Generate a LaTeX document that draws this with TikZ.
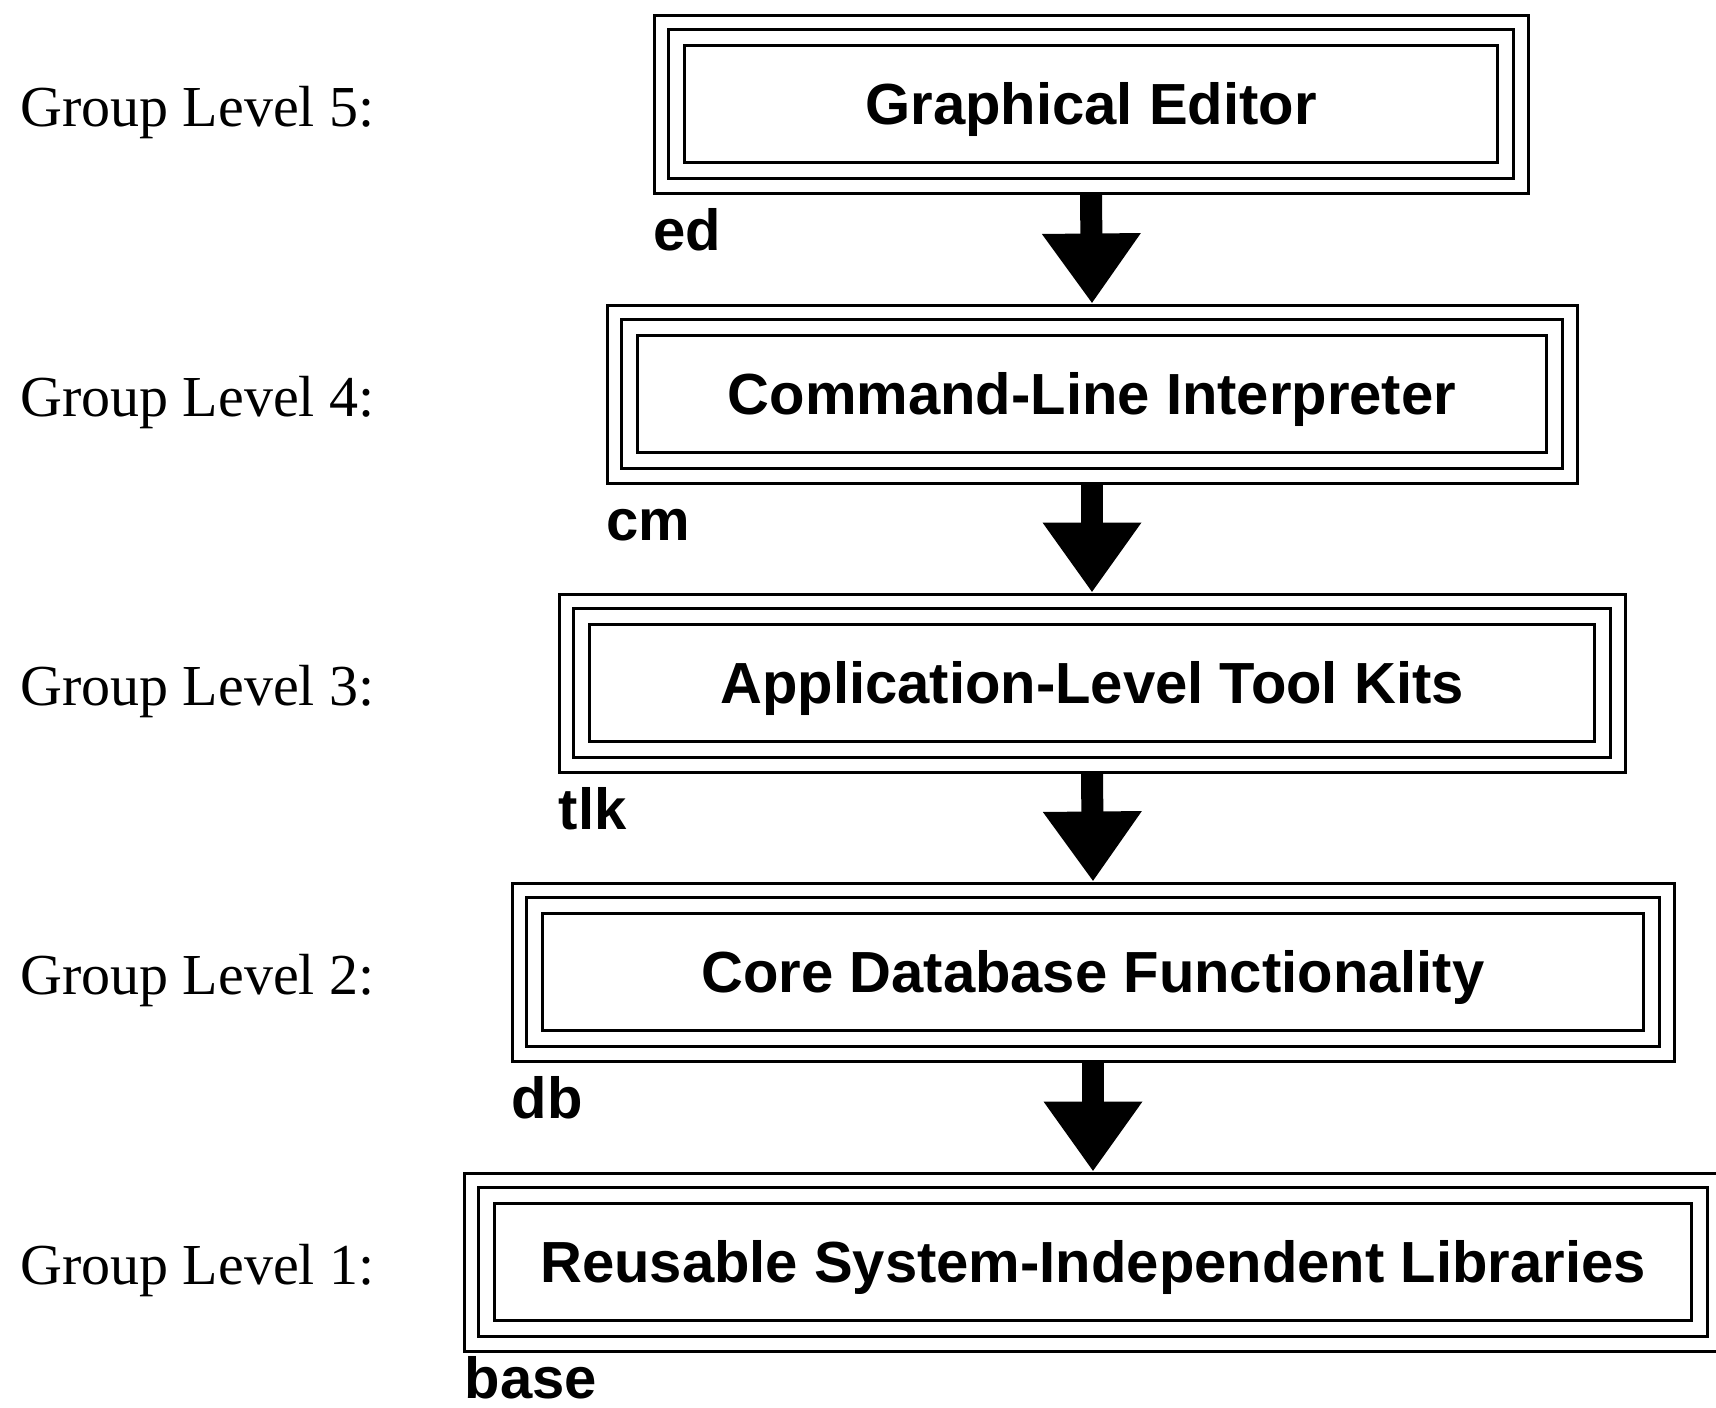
\documentclass[tikz,border=0pt]{standalone}
\usepackage{fontspec}
\setmainfont{Liberation Serif}
\newfontfamily\boxfont{Liberation Sans}
\usetikzlibrary{arrows.meta}
\begin{document}
\begin{tikzpicture}[x=1pt,y=-1pt,
  layerbox/.style={draw, line width=3pt, inner sep=0pt, minimum height=178pt,
    text height=41pt, text depth=0pt, font=\boxfont\bfseries\fontsize{58}{60}\selectfont},
  grouplabel/.style={anchor=base west, inner sep=0pt, font=\fontsize{58}{60}\selectfont},
  tag/.style={anchor=base west, inner sep=0pt, font=\boxfont\bfseries\fontsize{58}{60}\selectfont},
  frame/.style={line width=3pt},
  dep/.style={line width=22pt, -{Triangle[length=70pt,width=94pt]}}]
\useasboundingbox (0,0) rectangle (1716,1408);

\node[layerbox, minimum width=874pt]  (b5) at (1091,104)  {Graphical Editor};
\node[layerbox, minimum width=970pt]  (b4) at (1092,394)  {Command-Line Interpreter};
\node[layerbox, minimum width=1066pt] (b3) at (1092,683)  {Application-Level Tool Kits};
\node[layerbox, minimum width=1162pt] (b2) at (1093,972)  {Core Database Functionality};
\node[layerbox, minimum width=1258pt] (b1) at (1093,1262) {Reusable System-Independent Libraries};

\foreach \b in {b1,b2,b3,b4,b5}{
  \draw[frame] ([shift={(16,16)}]\b.north west) rectangle ([shift={(-16,-16)}]\b.south east);
  \draw[frame] ([shift={(32,32)}]\b.north west) rectangle ([shift={(-32,-32)}]\b.south east);
}

\node[grouplabel] (g5) at (20,126)  {Group Level 5:};
\node[grouplabel] (g4) at (20,416)  {Group Level 4:};
\node[grouplabel] (g3) at (20,705)  {Group Level 3:};
\node[grouplabel] (g2) at (20,994)  {Group Level 2:};
\node[grouplabel] (g1) at (20,1284) {Group Level 1:};

\node[tag] (t5) at ([shift={(1,56)}]b5.south west) {ed};
\node[tag] (t4) at ([shift={(1,56)}]b4.south west) {cm};
\node[tag] (t3) at ([shift={(1,56)}]b3.south west) {tlk};
\node[tag] (t2) at ([shift={(1,56)}]b2.south west) {db};
\node[tag] (t1) at ([shift={(2,46)}]b1.south west) {base};

\draw[dep] (b5.south) -- (b4.north);
\draw[dep] (b4.south) -- (b3.north);
\draw[dep] (b3.south) -- (b2.north);
\draw[dep] (b2.south) -- (b1.north);
\end{tikzpicture}
\end{document}
